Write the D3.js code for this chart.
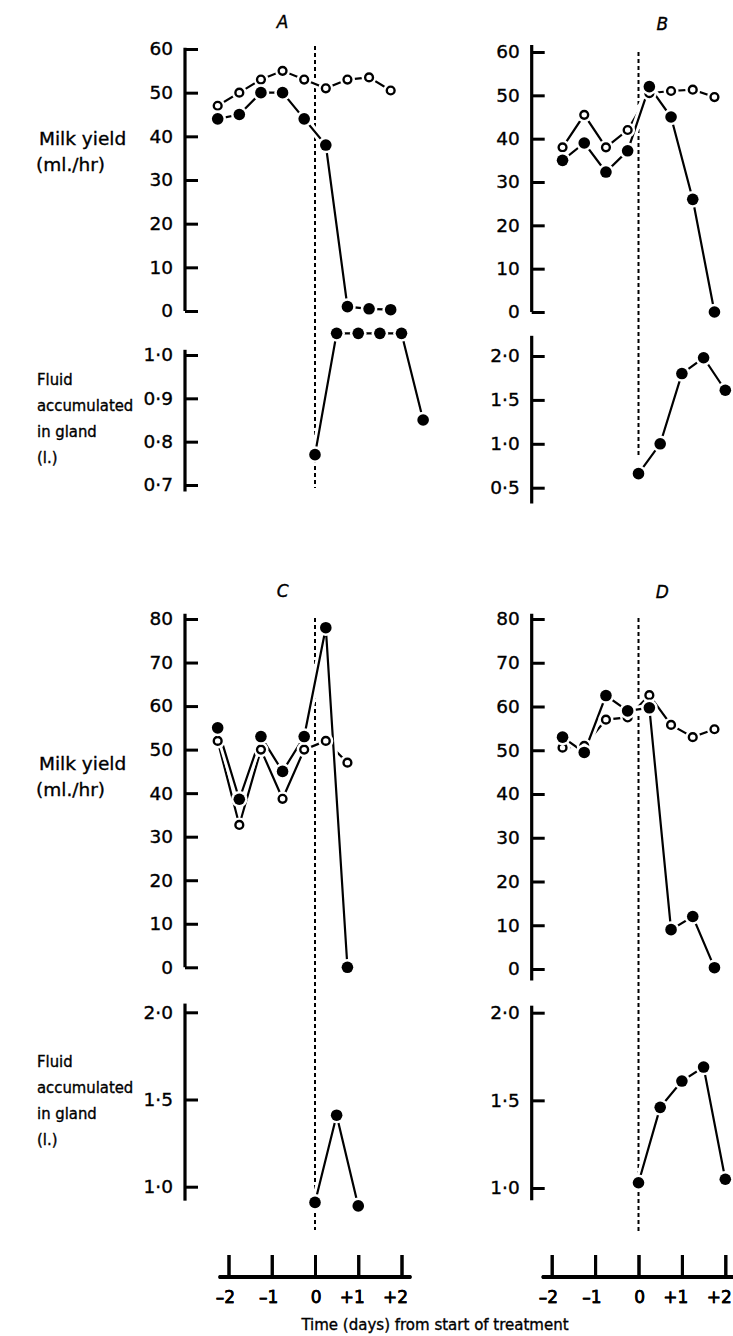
<!DOCTYPE html>
<html>
<head>
<meta charset="utf-8">
<script src="https://cdn.jsdelivr.net/npm/d3@7"></script>
<style>
body { margin: 0; background: #fff; }
text { font-family: "DejaVu Sans", Verdana, sans-serif; fill: #000; stroke: #000; stroke-width: 0.35px; }
</style>
</head>
<body>
<div id="chart"></div>
<script>
// times (days from start of treatment) and readings, one set per cow A-D
var milkTimesA = [-2.25, -1.75, -1.25, -0.75, -0.25, 0.25, 0.75, 1.25, 1.75];
var openA      = [47, 50, 53, 55, 53, 51, 53, 53.5, 50.5];
var filledA    = [44, 45, 50, 50, 44, 38, 1, 0.5, 0.3];
var fluidTimesA = [0, 0.5, 1, 1.5, 2, 2.5];
var fluidA      = [0.77, 1.05, 1.05, 1.05, 1.05, 0.85];

var milkTimesB = [-1.75, -1.25, -0.75, -0.25, 0.25, 0.75, 1.25, 1.75];
var openB      = [38, 45.5, 38, 42, 50.5, 51, 51.3, 49.6];
var filledB    = [35, 39, 32.3, 37.2, 52, 45, 26, 0];
var fluidTimesB = [0, 0.5, 1, 1.5, 2];
var fluidB      = [0.66, 1.0, 1.8, 1.98, 1.61];

var milkTimesC = [-2.25, -1.75, -1.25, -0.75, -0.25, 0.25, 0.75];
var openC      = [52, 32.7, 50, 38.7, 50, 52, 47];
var filledC    = [55, 38.6, 53, 45, 53, 78, 0];
var fluidTimesC = [0, 0.5, 1];
var fluidC      = [0.91, 1.41, 0.89];

var milkTimesD = [-1.75, -1.25, -0.75, -0.25, 0.25, 0.75, 1.25, 1.75];
var openD      = [50.6, 51, 57, 57.5, 62.6, 55.8, 53, 54.8];
var filledD    = [53, 49.5, 62.5, 59, 59.7, 9, 12, 0.3];
var fluidTimesD = [0, 0.5, 1, 1.5, 2];
var fluidD      = [1.03, 1.46, 1.61, 1.69, 1.05];

var dayTicks = [-2, -1, 0, 1, 2];
var milkTicks60 = [0, 10, 20, 30, 40, 50, 60];
var milkTicks80 = [0, 10, 20, 30, 40, 50, 60, 70, 80];

var W = 733, H = 1336;

var svg = d3.select("#chart").append("svg")
    .attr("width", W)
    .attr("height", H);

var panels = [
  {name: "A", xr: [228.5, 401.5], axX: 185, letterDay: -0.75, letterY: 28, labels: true,
   milkY: [311, 49], milkMax: 60, milkTicks: milkTicks60, milkExt: [0, 60.3],
   fluidDom: [0.7, 1.0], fluidY: [485, 355], fluidTicks: [0.7, 0.8, 0.9, 1.0], fluidExt: [0.685, 1.012],
   dotted: [46, 488], milkLab: 145, fluidLab: 385,
   mt: milkTimesA, open: openA, filled: filledA, ft: fluidTimesA, fv: fluidA},
  {name: "B", xr: [551.7, 725.3], axX: 531.7, letterDay: 0.55, letterY: 30, labels: false,
   milkY: [312, 52], milkMax: 60, milkTicks: milkTicks60, milkExt: [0, 61.6],
   fluidDom: [0.5, 2.0], fluidY: [487.7, 356], fluidTicks: [0.5, 1.0, 1.5, 2.0], fluidExt: [0.32, 2.23],
   dotted: [52, 457],
   mt: milkTimesB, open: openB, filled: filledB, ft: fluidTimesB, fv: fluidB},
  {name: "C", xr: [228.5, 401.5], axX: 185, letterDay: -0.75, letterY: 597, labels: true,
   milkY: [967.3, 619], milkMax: 80, milkTicks: milkTicks80, milkExt: [0, 81.2],
   fluidDom: [1.0, 2.0], fluidY: [1186.7, 1012.3], fluidTicks: [1.0, 1.5, 2.0], fluidExt: [0.92, 2.05],
   dotted: [618, 1230], milkLab: 770, fluidLab: 1067,
   mt: milkTimesC, open: openC, filled: filledC, ft: fluidTimesC, fv: fluidC},
  {name: "D", xr: [551.7, 725.3], axX: 531.7, letterDay: 0.55, letterY: 598, labels: false,
   milkY: [969, 619], milkMax: 80, milkTicks: milkTicks80, milkExt: [-2.6, 81.2],
   fluidDom: [1.0, 2.0], fluidY: [1188, 1012.7], fluidTicks: [1.0, 1.5, 2.0], fluidExt: [0.93, 2.04],
   dotted: [618, 1232],
   mt: milkTimesD, open: openD, filled: filledD, ft: fluidTimesD, fv: fluidD}
];

var fmtFluid = function(d) { return d3.format(".1f")(d).replace(".", "\u00b7"); };
var fmtDay = function(d) { return d > 0 ? "+" + d : d < 0 ? "\u2013" + (-d) : "0"; };

panels.forEach(function(p) {
  var x = d3.scaleLinear().domain([-2, 2]).range(p.xr);
  var ym = d3.scaleLinear().domain([0, p.milkMax]).range(p.milkY);
  var yf = d3.scaleLinear().domain(p.fluidDom).range(p.fluidY);

  var g = svg.append("g");

  // panel letter
  g.append("text")
    .attr("x", x(p.letterDay))
    .attr("y", p.letterY)
    .attr("text-anchor", "middle")
    .attr("font-style", "italic")
    .attr("font-size", "17px")
    .text(p.name);

  // treatment start
  g.append("line")
    .attr("x1", x(0)).attr("x2", x(0))
    .attr("y1", p.dotted[0]).attr("y2", p.dotted[1])
    .attr("stroke", "#000")
    .attr("stroke-width", 2)
    .attr("stroke-dasharray", "4,3");

  // y axes
  [[ym, p.milkTicks, p.milkExt, d3.format("d")], [yf, p.fluidTicks, p.fluidExt, fmtFluid]].forEach(function(a) {
    var sc = a[0];
    var ax = g.append("g")
      .attr("transform", "translate(" + p.axX + ",0)")
      .call(d3.axisLeft(sc).tickValues(a[1]).tickSize(-13).tickPadding(12).tickFormat(a[3]));
    ax.select(".domain").remove();
    ax.selectAll(".tick line").attr("stroke-width", 3);
    ax.selectAll(".tick text")
      .attr("font-size", "18.5px")
      .attr("font-family", "DejaVu Sans, Verdana, sans-serif");
    ax.append("line")
      .attr("x1", 0).attr("x2", 0)
      .attr("y1", sc(a[2][0])).attr("y2", sc(a[2][1]))
      .attr("stroke", "#000")
      .attr("stroke-width", 3.2);
  });

  // series: halo under every line and marker so crossings break like the print
  var lineM = d3.line().x(function(d) { return x(d[0]); }).y(function(d) { return ym(d[1]); });
  var lineF = d3.line().x(function(d) { return x(d[0]); }).y(function(d) { return yf(d[1]); });

  var openPts = p.mt.map(function(t, i) { return [t, p.open[i]]; });
  var filledPts = p.mt.map(function(t, i) { return [t, p.filled[i]]; });
  var fluidPts = p.ft.map(function(t, i) { return [t, p.fv[i]]; });

  var series = [
    {pts: openPts, line: lineM, y: ym, open: true},
    {pts: filledPts, line: lineM, y: ym, open: false},
    {pts: fluidPts, line: lineF, y: yf, open: false}
  ];

  series.forEach(function(s) {
    g.append("path")
      .attr("d", s.line(s.pts))
      .attr("fill", "none")
      .attr("stroke", "#fff")
      .attr("stroke-width", 8);
    g.append("path")
      .attr("d", s.line(s.pts))
      .attr("fill", "none")
      .attr("stroke", "#000")
      .attr("stroke-width", 2.2);
  });

  series.forEach(function(s) {
    g.selectAll(null)
      .data(s.pts)
      .enter()
      .append("circle")
      .attr("cx", function(d) { return x(d[0]); })
      .attr("cy", function(d) { return s.y(d[1]); })
      .attr("r", s.open ? 7.5 : 8.3)
      .attr("fill", "#fff");
    g.selectAll(null)
      .data(s.pts)
      .enter()
      .append("circle")
      .attr("cx", function(d) { return x(d[0]); })
      .attr("cy", function(d) { return s.y(d[1]); })
      .attr("r", s.open ? 3.9 : 5.8)
      .attr("fill", s.open ? "#fff" : "#000")
      .attr("stroke", s.open ? "#000" : "none")
      .attr("stroke-width", 2.4);
  });

  // side labels
  if (p.labels) {
    var t1 = g.append("text").attr("font-size", "18.5px");
    t1.append("tspan").attr("x", 39).attr("y", p.milkLab).text("Milk yield");
    t1.append("tspan").attr("x", 36).attr("y", p.milkLab + 26).text("(ml./hr)");
    var t2 = g.append("text")
      .attr("font-size", "16.5px")
      .attr("font-family", "DejaVu Sans Condensed, DejaVu Sans, sans-serif")
      .attr("font-stretch", "condensed");
    ["Fluid", "accumulated", "in gland", "(l.)"].forEach(function(s, i) {
      t2.append("tspan").attr("x", 37).attr("y", p.fluidLab + i * 26).text(s);
    });
  }

  // time axis
  var bx = g.append("g")
    .attr("transform", "translate(0,1277)")
    .call(d3.axisBottom(x).tickValues(dayTicks).tickSize(-22).tickPadding(14).tickFormat(fmtDay));
  bx.select(".domain").remove();
  bx.selectAll(".tick line").attr("stroke-width", 3);
  bx.selectAll(".tick text")
    .attr("font-size", "17px")
    .attr("font-family", "DejaVu Sans, Verdana, sans-serif")
    .attr("text-anchor", "end")
    .attr("dx", 6);
  bx.append("line")
    .attr("x1", x(-2.19)).attr("x2", x(2.19))
    .attr("y1", 0).attr("y2", 0)
    .attr("stroke", "#000")
    .attr("stroke-width", 4)
    .attr("stroke-linecap", "round");
});

svg.append("text")
  .attr("x", 435)
  .attr("y", 1330)
  .attr("text-anchor", "middle")
  .attr("font-size", "15px")
  .text("Time (days) from start of treatment");
</script>
</body>
</html>
